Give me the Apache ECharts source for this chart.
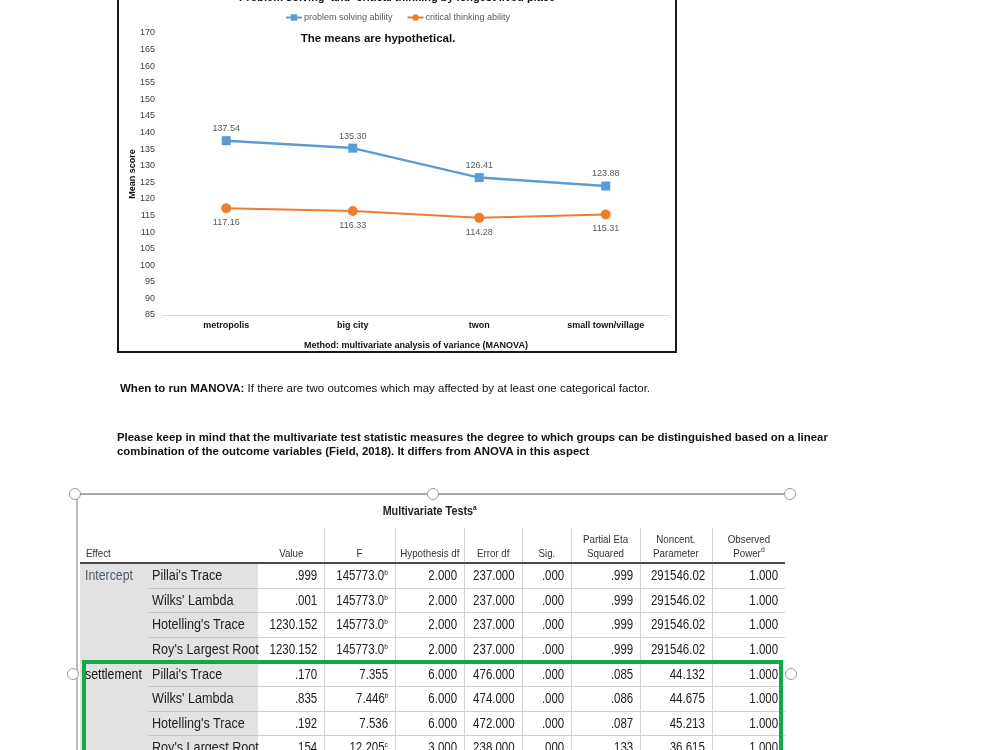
<!DOCTYPE html>
<html>
<head>
<meta charset="utf-8">
<script src="https://cdn.jsdelivr.net/npm/echarts@6/dist/echarts.min.js"></script>
<style>
  html, body { margin:0; padding:0; background:#fff; width:1000px; height:750px; overflow:hidden; }
  #chart { position:absolute; left:0; top:0; width:1000px; height:750px; }
  .abs { position:absolute; }
  #box { left:117px; top:-20px; width:556px; height:369px; border:2px solid #1a1a1a; }
  .txt { font-family:"Liberation Sans", Arial, sans-serif; font-size:11.5px; color:#111; white-space:nowrap; }
  .cell { position:absolute; display:flex; align-items:center; white-space:nowrap; font-family:"Liberation Sans", Arial, sans-serif; color:#222; }
  .cell span { display:inline-block; }
  .handle { position:absolute; width:10px; height:10px; border-radius:50%; background:#fff; border:1.5px solid #9a9a9a; }
  sup { font-size:8px; vertical-align:5px; line-height:0; }
</style>
</head>
<body>
<div id="chart"></div>
<div id="box" class="abs"></div>

<div class="abs txt" style="left:120px; top:382px;"><b>When to run MANOVA:</b> If there are two outcomes which may affected by at least one categorical factor.</div>
<div class="abs txt" style="left:117px; top:430px; font-size:11.4px; font-weight:bold; line-height:14px;">Please keep in mind that the multivariate test statistic measures the degree to which groups can be distinguished based on a linear<br>combination of the outcome variables (Field, 2018). It differs from ANOVA in this aspect</div>

<div id="tablayer" class="abs" style="left:0; top:0; width:1000px; height:750px;"></div>

<script>
// ---- chart data ----
const categories = ['metropolis', 'big city', 'twon', 'small town/village'];
const problemSolving = [137.54, 135.30, 126.41, 123.88];
const criticalThinking = [117.16, 116.33, 114.28, 115.31];
const seriesNames = ['problem solving ability', 'critical thinking ability'];

// ---- table data ----
const tableTitle = 'Multivariate Tests';
const tableHeaders = ['Effect', '', 'Value', 'F', 'Hypothesis df', 'Error df', 'Sig.', 'Partial Eta<br>Squared', 'Noncent.<br>Parameter', 'Observed<br>Power<sup>d</sup>'];
const effects = ['Intercept', 'settlement'];
const tests = ["Pillai's Trace", "Wilks' Lambda", "Hotelling's Trace", "Roy's Largest Root"];
const colValue = ['.999', '.001', '1230.152', '1230.152', '.170', '.835', '.192', '.154'];
const colF = ['145773.0<sup>b</sup>', '145773.0<sup>b</sup>', '145773.0<sup>b</sup>', '145773.0<sup>b</sup>', '7.355', '7.446<sup>b</sup>', '7.536', '12.205<sup>c</sup>'];
const colHypDf = ['2.000', '2.000', '2.000', '2.000', '6.000', '6.000', '6.000', '3.000'];
const colErrDf = ['237.000', '237.000', '237.000', '237.000', '476.000', '474.000', '472.000', '238.000'];
const colSig = ['.000', '.000', '.000', '.000', '.000', '.000', '.000', '.000'];
const colEta = ['.999', '.999', '.999', '.999', '.085', '.086', '.087', '.133'];
const colNoncent = ['291546.02', '291546.02', '291546.02', '291546.02', '44.132', '44.675', '45.213', '36.615'];
const colPower = ['1.000', '1.000', '1.000', '1.000', '1.000', '1.000', '1.000', '1.000'];

// build the SPSS-like table
(function () {
  const L = document.getElementById('tablayer');
  const xs = [80, 148, 258, 324, 395, 464, 522, 571, 640, 712, 785];
  const headTop = 524, headBot = 563, rowH = 24.6, nRows = 8;
  const rowTop = r => headBot + r * rowH;
  let h = '';
  const rect = (x, y, w, hh, c) => '<div class="abs" style="left:' + x + 'px;top:' + y + 'px;width:' + w + 'px;height:' + hh + 'px;background:' + c + '"></div>';
  // frame
  h += rect(75, 493, 716, 2, '#a8a8a8');
  h += rect(76, 494, 2, 260, '#bdbdbd');
  // title
  h += '<div class="cell" style="left:330px;top:500px;width:200px;height:20px;justify-content:center;font-weight:bold;font-size:13px;"><span style="transform:scaleX(0.83)">' + tableTitle + '<sup>a</sup></span></div>';
  // grey label area
  h += rect(80, headBot + 1, 178, 200, '#e2e2e2');
  // row separators
  for (let r = 1; r < nRows; r++) {
    const y = Math.round(rowTop(r));
    h += rect(148, y, 110, 1, '#c6c6c6');
    h += rect(258, y, 527, 1, '#cfcfcf');
    if (r === 4) h += rect(80, y, 68, 1, '#c6c6c6');
  }
  // vertical separators
  for (let c = 3; c < xs.length - 1; c++) h += rect(xs[c], headTop + 4, 1, 230, '#d2d2d2');
  // header underline
  h += rect(80, headBot - 1, 705, 2, '#4a4a4a');
  // header texts
  tableHeaders.forEach((t, i) => {
    if (!t) return;
    const left = i === 0 ? 86 : xs[i];
    const w = i === 0 ? 60 : xs[i + 1] - xs[i];
    h += '<div class="cell" style="left:' + left + 'px;top:' + headTop + 'px;width:' + w + 'px;height:' + (headBot - headTop - 3) + 'px;align-items:flex-end;justify-content:' + (i === 0 ? 'flex-start' : 'center') + ';font-size:11.5px;color:#333;text-align:center;line-height:14px;"><span style="transform:scaleX(0.85);transform-origin:' + (i === 0 ? 'left' : 'center') + '">' + t + '</span></div>';
  });
  // body
  const cols = [colValue, colF, colHypDf, colErrDf, colSig, colEta, colNoncent, colPower];
  for (let r = 0; r < nRows; r++) {
    const y = rowTop(r);
    if (r % 4 === 0) {
      h += '<div class="cell" style="left:85px;top:' + y + 'px;width:70px;height:' + rowH + 'px;font-size:14px;color:' + (r === 0 ? '#4a5a6c' : '#111') + '"><span style="transform:scaleX(0.88);transform-origin:left">' + effects[r / 4] + '</span></div>';
    }
    h += '<div class="cell" style="left:152px;top:' + y + 'px;width:110px;height:' + rowH + 'px;font-size:14px;"><span style="transform:scaleX(0.9);transform-origin:left">' + tests[r % 4] + '</span></div>';
    cols.forEach((col, c) => {
      const x0 = xs[c + 2], x1 = xs[c + 3];
      h += '<div class="cell" style="left:' + x0 + 'px;top:' + y + 'px;width:' + (x1 - x0 - 7) + 'px;height:' + rowH + 'px;justify-content:flex-end;font-size:14px;"><span style="transform:scaleX(0.82);transform-origin:right">' + col[r] + '</span></div>';
    });
  }
  // green highlight and handles
  h += '<div class="abs" style="left:82px;top:660px;width:693px;height:100px;border:4px solid #12a84a;"></div>';
  [[69, 488], [427, 488], [784, 488], [67, 668], [785, 668]].forEach(p => {
    h += '<div class="handle" style="left:' + p[0] + 'px;top:' + p[1] + 'px;"></div>';
  });
  L.innerHTML = h;
})();

const chart = echarts.init(document.getElementById('chart'));
const lbl = { fontSize: 9, color: '#595959', fontFamily: 'Liberation Sans, Arial, sans-serif' };
chart.setOption({
  animation: false,
  textStyle: { fontFamily: 'Liberation Sans, Arial, sans-serif' },
  graphic: [
    { type: 'text', x: 397, y: -2, style: { text: 'Problem solving  and  critical thinking by longest lived place', align: 'center', verticalAlign: 'middle', font: 'bold 11px "Liberation Sans", Arial', fill: '#111' } },
    { type: 'text', x: 378, y: 39, style: { text: 'The means are hypothetical.', align: 'center', verticalAlign: 'middle', font: 'bold 11.5px "Liberation Sans", Arial', fill: '#111' } }
  ],
  legend: {
    top: 8, left: 280, itemGap: 14, itemWidth: 16, itemHeight: 8,
    textStyle: { fontSize: 9, color: '#595959', padding: [0, 0, 0, -3] },
    data: seriesNames
  },
  grid: { left: 163, right: 331, top: 33, bottom: 435, containLabel: false },
  xAxis: {
    type: 'category', data: categories, boundaryGap: true,
    axisLine: { lineStyle: { color: '#d9d9d9', width: 1 } },
    axisTick: { show: false },
    axisLabel: { fontSize: 9, fontWeight: 'bold', color: '#111', margin: 6 },
    name: 'Method: multivariate analysis of variance (MANOVA)', nameLocation: 'middle', nameGap: 26,
    nameMoveOverlap: false,
    nameTextStyle: { fontSize: 9, fontWeight: 'bold', color: '#111' }
  },
  yAxis: {
    type: 'value', min: 85, max: 170, interval: 5,
    axisLine: { show: false }, axisTick: { show: false }, splitLine: { show: false },
    axisLabel: { fontSize: 9, color: '#404040', margin: 8 },
    name: 'Mean score', nameLocation: 'middle', nameGap: 26,
    nameMoveOverlap: false,
    nameTextStyle: { fontSize: 9, fontWeight: 'bold', color: '#111' }
  },
  series: [
    {
      name: seriesNames[0], type: 'line', data: problemSolving,
      symbol: 'rect', symbolSize: 9,
      itemStyle: { color: '#5b9bd5' }, lineStyle: { color: '#5b9bd5', width: 2.5 },
      label: Object.assign({ show: true, position: 'top', distance: 3, formatter: p => p.value.toFixed(2) }, lbl)
    },
    {
      name: seriesNames[1], type: 'line', data: criticalThinking,
      symbol: 'circle', symbolSize: 10,
      itemStyle: { color: '#ed7d31' }, lineStyle: { color: '#ed7d31', width: 2 },
      label: Object.assign({ show: true, position: 'bottom', distance: 5, formatter: p => p.value.toFixed(2) }, lbl)
    }
  ]
});
</script>
</body>
</html>
